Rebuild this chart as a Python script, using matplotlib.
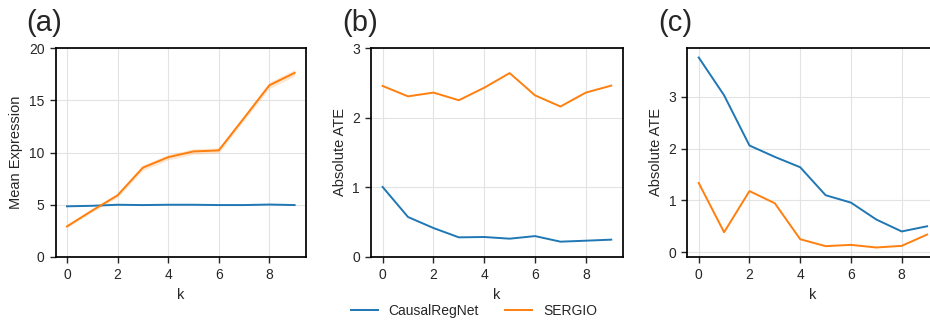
import matplotlib
matplotlib.use("Agg")
import matplotlib.pyplot as plt
import numpy as np

k = list(range(10))

# Panel (a): mean expression
a_causal = [4.85, 4.9, 5.0, 4.97, 5.0, 5.0, 4.97, 4.97, 5.02, 4.97]
a_sergio = [2.93, 4.45, 5.9, 8.55, 9.55, 10.1, 10.2, 13.3, 16.43, 17.62]
a_sergio_err = [0.12, 0.15, 0.2, 0.25, 0.25, 0.25, 0.25, 0.25, 0.3, 0.3]

# Panel (b): absolute ATE
b_causal = [1.005, 0.574, 0.416, 0.282, 0.287, 0.263, 0.30, 0.22, 0.234, 0.249]
b_sergio = [2.455, 2.306, 2.36, 2.25, 2.43, 2.64, 2.32, 2.16, 2.36, 2.46]

# Panel (c): absolute ATE
c_causal = [3.76, 3.03, 2.06, 1.84, 1.64, 1.10, 0.957, 0.63, 0.40, 0.50]
c_sergio = [1.336, 0.385, 1.18, 0.944, 0.25, 0.116, 0.141, 0.09, 0.122, 0.34]

series_names = ["CausalRegNet", "SERGIO"]
colors = ["#1f77b4", "#ff7f0e"]
panel_labels = ["(a)", "(b)", "(c)"]
ylabels = ["Mean Expression", "Absolute ATE", "Absolute ATE"]

plt.rcParams['font.family'] = ['Liberation Sans', 'DejaVu Sans']
plt.rcParams['text.color'] = '#262626'
plt.rcParams['axes.labelcolor'] = '#262626'
plt.rcParams['xtick.color'] = '#262626'
plt.rcParams['ytick.color'] = '#262626'

W, H = 930, 321
fig = plt.figure(figsize=(W / 100, H / 100), dpi=100)

boxes = [(55.6, 306), (371.2, 622.7), (687.3, 938.5)]
top, bottom = 48, 257

data = [(a_causal, a_sergio), (b_causal, b_sergio), (c_causal, c_sergio)]
axes = []
for i, ((l, r), (yc, ys)) in enumerate(zip(boxes, data)):
    ax = fig.add_axes([l / W, (H - bottom) / H, (r - l) / W, (bottom - top) / H])
    axes.append(ax)
    ax.plot(k, yc, color=colors[0], lw=1.4, label=series_names[0])
    ax.plot(k, ys, color=colors[1], lw=1.4, label=series_names[1])
    if i == 0:
        lo = np.array(ys) - np.array(a_sergio_err)
        hi = np.array(ys) + np.array(a_sergio_err)
        ax.fill_between(k, lo, hi, color=colors[1], alpha=0.2, lw=0)
        ax.set_ylim(0, 20)
        ax.set_yticks([0, 5, 10, 15, 20])
    elif i == 1:
        ax.set_ylim(0, 3)
        ax.set_yticks([0, 1, 2, 3])
    else:
        ax.set_yticks([0, 1, 2, 3])
    ax.set_xlim(-0.45, 9.45)
    ax.set_xticks([0, 2, 4, 6, 8])
    ax.grid(True, color='#e3e3e3', lw=0.8)
    ax.set_axisbelow(True)
    for s in ax.spines.values():
        s.set_color('black')
        s.set_linewidth(1.25)
    ax.tick_params(direction='out', length=4, width=1, labelsize=10, pad=4)
    ax.set_xlabel("k", fontsize=10.5)
    ax.set_ylabel(ylabels[i], fontsize=10.5)

label_x = [26, 342, 658]
for lx, lab in zip(label_x, panel_labels):
    fig.text(lx / W, 1 - 23 / H, lab, fontsize=21, va='center', ha='left')

handles, labels = axes[0].get_legend_handles_labels()
fig.legend(handles, labels, loc='center', bbox_to_anchor=(474 / W, 1 - 311 / H),
           ncol=2, frameon=False, fontsize=10, handlelength=1.9, columnspacing=1.9)

fig.savefig("out.png", dpi=100)
